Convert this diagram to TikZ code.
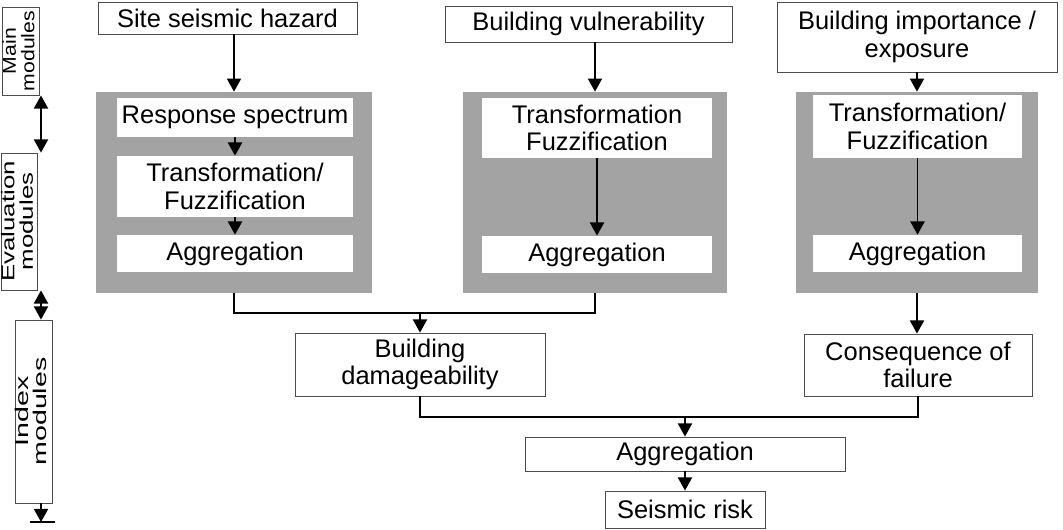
\documentclass[tikz,border=0pt]{standalone}
\usepackage{fontspec}
\setmainfont{Liberation Sans}
\usetikzlibrary{arrows.meta}
\definecolor{panelgray}{gray}{0.64}
\definecolor{boxline}{gray}{0.3}
\newcommand{\mylefttext}[2]{\rotatebox{90}{\scalebox{#1}[1]{\begin{tabular}{@{}c@{}}#2\end{tabular}}}}
\begin{document}
\begin{tikzpicture}[x=0.02cm,y=-0.02cm,
  every node/.style={font=\fontsize{14.5}{15.5}\selectfont, inner sep=0pt, align=center},
  wbox/.style={draw=boxline, line width=0.5pt, fill=white},
  inbox/.style={fill=white},
  panel/.style={fill=panelgray},
  conn/.style={line width=1.1pt},
  arr/.style={conn, -{Triangle[length=7.5pt,width=8pt]}},
  darr/.style={conn, {Triangle[length=7.5pt,width=8pt]}-{Triangle[length=7.5pt,width=8pt]}},
  lbox/.style={wbox, font=\fontsize{10.5}{9.5}\selectfont}]

\useasboundingbox (0,0) rectangle (1063,529);

% main modules
\node[wbox, minimum width=5.18cm, minimum height=0.64cm] (site) at (227.5,18) {Site seismic hazard};
\node[wbox, minimum width=5.74cm, minimum height=0.72cm] (vuln) at (588.5,24) {Building vulnerability};
\node[wbox, minimum width=5.6cm, minimum height=1.4cm] (imp) at (917,37) {Building importance /\\exposure};

% panel 1
\node[panel, minimum width=5.54cm, minimum height=4.02cm] (p1) at (234,192.5) {};
\node[inbox, minimum width=4.72cm, minimum height=0.78cm] (resp) at (235,117.5) {Response spectrum};
\node[inbox, minimum width=4.72cm, minimum height=1.22cm] (tr1) at (235,186.5) {Transformation/\\Fuzzification};
\node[inbox, minimum width=4.72cm, minimum height=0.74cm] (ag1) at (235,253.5) {Aggregation};

% panel 2
\node[panel, minimum width=5.28cm, minimum height=4.02cm] (p2) at (595,192.5) {};
\node[inbox, minimum width=4.6cm, minimum height=1.2cm] (tr2) at (597,128) {Transformation\\Fuzzification};
\node[inbox, minimum width=4.6cm, minimum height=0.74cm] (ag2) at (597,254.5) {Aggregation};

% panel 3
\node[panel, minimum width=4.84cm, minimum height=4.02cm] (p3) at (917,192.5) {};
\node[inbox, minimum width=4.18cm, minimum height=1.26cm] (tr3) at (917.5,126.5) {Transformation/\\Fuzzification};
\node[inbox, minimum width=4.18cm, minimum height=0.74cm] (ag3) at (917.5,253.5) {Aggregation};

% index modules
\node[wbox, minimum width=5.0cm, minimum height=1.26cm] (dam) at (420,364.5) {Building\\damageability};
\node[wbox, minimum width=4.56cm, minimum height=1.24cm] (cons) at (918,365) {Consequence of\\failure};
\node[wbox, minimum width=6.4cm, minimum height=0.68cm] (aggf) at (685,454) {Aggregation};
\node[wbox, minimum width=3.2cm, minimum height=0.74cm] (risk) at (685,509.5) {Seismic risk};

\coordinate (j1) at (420,313);
\coordinate (j2) at (685,417);

% connectors
\draw[arr] (site.south -| p1.north) -- (p1.north);
\draw[arr] (resp.south) -- (tr1.north);
\draw[arr] (tr1.south) -- (ag1.north);
\draw[arr] (vuln.south -| p2.north) -- (p2.north);
\draw[arr] (tr2.south) -- (ag2.north);
\draw[arr] (imp.south -| p3.north) -- (p3.north);
\draw[arr] (tr3.south) -- (ag3.north);
\draw[conn] (p1.south) |- (j1) -| (p2.south);
\draw[arr] (j1) -- (dam.north);
\draw[arr] (p3.south) -- (p3.south |- cons.north);
\draw[conn] (dam.south) |- (j2) -| (cons.south);
\draw[arr] (j2) -- (aggf.north);
\draw[arr] (aggf.south) -- (risk.north);

% left column
\node[lbox, minimum width=0.66cm, minimum height=1.76cm] (main) at (21,51) {\mylefttext{1.15}{Main\\modules}};
\node[lbox, minimum width=0.68cm, minimum height=2.74cm] (eval) at (19.5,221.5) {\mylefttext{1.4}{Evaluation\\modules}};
\node[lbox, minimum width=0.74cm, minimum height=3.66cm] (index) at (33.5,411.5) {\mylefttext{1.55}{Index\\modules}};
\coordinate (ax) at (41,0);
\coordinate (gnd) at (41,522);
\draw[darr] (main.south -| ax) -- (eval.north -| ax);
\draw[darr] (eval.south -| ax) -- (index.north -| ax);
\draw[arr] (index.south -| gnd) -- (gnd);
\draw[conn] (gnd) ++(-11,0) -- ++(25,0);
\end{tikzpicture}
\end{document}
